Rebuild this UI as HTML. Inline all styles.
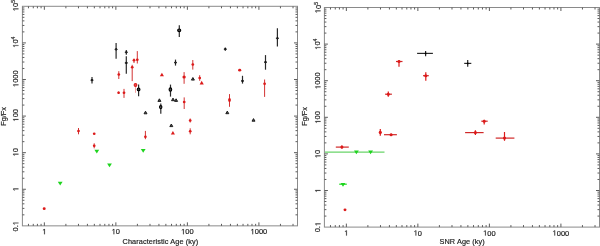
<!DOCTYPE html>
<html><head><meta charset="utf-8"><style>
html,body{margin:0;padding:0;background:#fff;}
body{width:600px;height:246px;overflow:hidden;}
svg{display:block;will-change:transform;font-family:"Liberation Sans",sans-serif;} text{fill:#222;stroke:#222;stroke-width:0.18px;}
</style></head><body>
<svg width="600" height="246" viewBox="0 0 600 246">
<rect width="600" height="246" fill="#fff"/>
<rect x="22.4" y="6.3" width="275.1" height="219.54999999999998" fill="none" stroke="#8a8a8a" stroke-width="1"/>
<line x1="28.48" y1="225.85" x2="28.48" y2="223.85" stroke="#5c5c5c" stroke-width="1.0" />
<line x1="28.48" y1="6.30" x2="28.48" y2="8.30" stroke="#5c5c5c" stroke-width="1.0" />
<line x1="33.27" y1="225.85" x2="33.27" y2="223.85" stroke="#5c5c5c" stroke-width="1.0" />
<line x1="33.27" y1="6.30" x2="33.27" y2="8.30" stroke="#5c5c5c" stroke-width="1.0" />
<line x1="37.42" y1="225.85" x2="37.42" y2="223.85" stroke="#5c5c5c" stroke-width="1.0" />
<line x1="37.42" y1="6.30" x2="37.42" y2="8.30" stroke="#5c5c5c" stroke-width="1.0" />
<line x1="41.08" y1="225.85" x2="41.08" y2="223.85" stroke="#5c5c5c" stroke-width="1.0" />
<line x1="41.08" y1="6.30" x2="41.08" y2="8.30" stroke="#5c5c5c" stroke-width="1.0" />
<line x1="44.35" y1="225.85" x2="44.35" y2="222.35" stroke="#5c5c5c" stroke-width="1.0" />
<line x1="44.35" y1="6.30" x2="44.35" y2="9.80" stroke="#5c5c5c" stroke-width="1.0" />
<line x1="65.88" y1="225.85" x2="65.88" y2="223.85" stroke="#5c5c5c" stroke-width="1.0" />
<line x1="65.88" y1="6.30" x2="65.88" y2="8.30" stroke="#5c5c5c" stroke-width="1.0" />
<line x1="78.47" y1="225.85" x2="78.47" y2="223.85" stroke="#5c5c5c" stroke-width="1.0" />
<line x1="78.47" y1="6.30" x2="78.47" y2="8.30" stroke="#5c5c5c" stroke-width="1.0" />
<line x1="87.41" y1="225.85" x2="87.41" y2="223.85" stroke="#5c5c5c" stroke-width="1.0" />
<line x1="87.41" y1="6.30" x2="87.41" y2="8.30" stroke="#5c5c5c" stroke-width="1.0" />
<line x1="94.34" y1="225.85" x2="94.34" y2="223.85" stroke="#5c5c5c" stroke-width="1.0" />
<line x1="94.34" y1="6.30" x2="94.34" y2="8.30" stroke="#5c5c5c" stroke-width="1.0" />
<line x1="100.00" y1="225.85" x2="100.00" y2="223.85" stroke="#5c5c5c" stroke-width="1.0" />
<line x1="100.00" y1="6.30" x2="100.00" y2="8.30" stroke="#5c5c5c" stroke-width="1.0" />
<line x1="104.79" y1="225.85" x2="104.79" y2="223.85" stroke="#5c5c5c" stroke-width="1.0" />
<line x1="104.79" y1="6.30" x2="104.79" y2="8.30" stroke="#5c5c5c" stroke-width="1.0" />
<line x1="108.94" y1="225.85" x2="108.94" y2="223.85" stroke="#5c5c5c" stroke-width="1.0" />
<line x1="108.94" y1="6.30" x2="108.94" y2="8.30" stroke="#5c5c5c" stroke-width="1.0" />
<line x1="112.60" y1="225.85" x2="112.60" y2="223.85" stroke="#5c5c5c" stroke-width="1.0" />
<line x1="112.60" y1="6.30" x2="112.60" y2="8.30" stroke="#5c5c5c" stroke-width="1.0" />
<line x1="115.87" y1="225.85" x2="115.87" y2="222.35" stroke="#5c5c5c" stroke-width="1.0" />
<line x1="115.87" y1="6.30" x2="115.87" y2="9.80" stroke="#5c5c5c" stroke-width="1.0" />
<line x1="137.40" y1="225.85" x2="137.40" y2="223.85" stroke="#5c5c5c" stroke-width="1.0" />
<line x1="137.40" y1="6.30" x2="137.40" y2="8.30" stroke="#5c5c5c" stroke-width="1.0" />
<line x1="149.99" y1="225.85" x2="149.99" y2="223.85" stroke="#5c5c5c" stroke-width="1.0" />
<line x1="149.99" y1="6.30" x2="149.99" y2="8.30" stroke="#5c5c5c" stroke-width="1.0" />
<line x1="158.93" y1="225.85" x2="158.93" y2="223.85" stroke="#5c5c5c" stroke-width="1.0" />
<line x1="158.93" y1="6.30" x2="158.93" y2="8.30" stroke="#5c5c5c" stroke-width="1.0" />
<line x1="165.86" y1="225.85" x2="165.86" y2="223.85" stroke="#5c5c5c" stroke-width="1.0" />
<line x1="165.86" y1="6.30" x2="165.86" y2="8.30" stroke="#5c5c5c" stroke-width="1.0" />
<line x1="171.52" y1="225.85" x2="171.52" y2="223.85" stroke="#5c5c5c" stroke-width="1.0" />
<line x1="171.52" y1="6.30" x2="171.52" y2="8.30" stroke="#5c5c5c" stroke-width="1.0" />
<line x1="176.31" y1="225.85" x2="176.31" y2="223.85" stroke="#5c5c5c" stroke-width="1.0" />
<line x1="176.31" y1="6.30" x2="176.31" y2="8.30" stroke="#5c5c5c" stroke-width="1.0" />
<line x1="180.46" y1="225.85" x2="180.46" y2="223.85" stroke="#5c5c5c" stroke-width="1.0" />
<line x1="180.46" y1="6.30" x2="180.46" y2="8.30" stroke="#5c5c5c" stroke-width="1.0" />
<line x1="184.12" y1="225.85" x2="184.12" y2="223.85" stroke="#5c5c5c" stroke-width="1.0" />
<line x1="184.12" y1="6.30" x2="184.12" y2="8.30" stroke="#5c5c5c" stroke-width="1.0" />
<line x1="187.39" y1="225.85" x2="187.39" y2="222.35" stroke="#5c5c5c" stroke-width="1.0" />
<line x1="187.39" y1="6.30" x2="187.39" y2="9.80" stroke="#5c5c5c" stroke-width="1.0" />
<line x1="208.92" y1="225.85" x2="208.92" y2="223.85" stroke="#5c5c5c" stroke-width="1.0" />
<line x1="208.92" y1="6.30" x2="208.92" y2="8.30" stroke="#5c5c5c" stroke-width="1.0" />
<line x1="221.51" y1="225.85" x2="221.51" y2="223.85" stroke="#5c5c5c" stroke-width="1.0" />
<line x1="221.51" y1="6.30" x2="221.51" y2="8.30" stroke="#5c5c5c" stroke-width="1.0" />
<line x1="230.45" y1="225.85" x2="230.45" y2="223.85" stroke="#5c5c5c" stroke-width="1.0" />
<line x1="230.45" y1="6.30" x2="230.45" y2="8.30" stroke="#5c5c5c" stroke-width="1.0" />
<line x1="237.38" y1="225.85" x2="237.38" y2="223.85" stroke="#5c5c5c" stroke-width="1.0" />
<line x1="237.38" y1="6.30" x2="237.38" y2="8.30" stroke="#5c5c5c" stroke-width="1.0" />
<line x1="243.04" y1="225.85" x2="243.04" y2="223.85" stroke="#5c5c5c" stroke-width="1.0" />
<line x1="243.04" y1="6.30" x2="243.04" y2="8.30" stroke="#5c5c5c" stroke-width="1.0" />
<line x1="247.83" y1="225.85" x2="247.83" y2="223.85" stroke="#5c5c5c" stroke-width="1.0" />
<line x1="247.83" y1="6.30" x2="247.83" y2="8.30" stroke="#5c5c5c" stroke-width="1.0" />
<line x1="251.98" y1="225.85" x2="251.98" y2="223.85" stroke="#5c5c5c" stroke-width="1.0" />
<line x1="251.98" y1="6.30" x2="251.98" y2="8.30" stroke="#5c5c5c" stroke-width="1.0" />
<line x1="255.64" y1="225.85" x2="255.64" y2="223.85" stroke="#5c5c5c" stroke-width="1.0" />
<line x1="255.64" y1="6.30" x2="255.64" y2="8.30" stroke="#5c5c5c" stroke-width="1.0" />
<line x1="258.91" y1="225.85" x2="258.91" y2="222.35" stroke="#5c5c5c" stroke-width="1.0" />
<line x1="258.91" y1="6.30" x2="258.91" y2="9.80" stroke="#5c5c5c" stroke-width="1.0" />
<line x1="280.44" y1="225.85" x2="280.44" y2="223.85" stroke="#5c5c5c" stroke-width="1.0" />
<line x1="280.44" y1="6.30" x2="280.44" y2="8.30" stroke="#5c5c5c" stroke-width="1.0" />
<line x1="293.03" y1="225.85" x2="293.03" y2="223.85" stroke="#5c5c5c" stroke-width="1.0" />
<line x1="293.03" y1="6.30" x2="293.03" y2="8.30" stroke="#5c5c5c" stroke-width="1.0" />
<line x1="22.40" y1="214.84" x2="24.40" y2="214.84" stroke="#5c5c5c" stroke-width="1.0" />
<line x1="297.50" y1="214.84" x2="295.50" y2="214.84" stroke="#5c5c5c" stroke-width="1.0" />
<line x1="22.40" y1="208.39" x2="24.40" y2="208.39" stroke="#5c5c5c" stroke-width="1.0" />
<line x1="297.50" y1="208.39" x2="295.50" y2="208.39" stroke="#5c5c5c" stroke-width="1.0" />
<line x1="22.40" y1="203.82" x2="24.40" y2="203.82" stroke="#5c5c5c" stroke-width="1.0" />
<line x1="297.50" y1="203.82" x2="295.50" y2="203.82" stroke="#5c5c5c" stroke-width="1.0" />
<line x1="22.40" y1="200.27" x2="24.40" y2="200.27" stroke="#5c5c5c" stroke-width="1.0" />
<line x1="297.50" y1="200.27" x2="295.50" y2="200.27" stroke="#5c5c5c" stroke-width="1.0" />
<line x1="22.40" y1="197.38" x2="24.40" y2="197.38" stroke="#5c5c5c" stroke-width="1.0" />
<line x1="297.50" y1="197.38" x2="295.50" y2="197.38" stroke="#5c5c5c" stroke-width="1.0" />
<line x1="22.40" y1="194.93" x2="24.40" y2="194.93" stroke="#5c5c5c" stroke-width="1.0" />
<line x1="297.50" y1="194.93" x2="295.50" y2="194.93" stroke="#5c5c5c" stroke-width="1.0" />
<line x1="22.40" y1="192.81" x2="24.40" y2="192.81" stroke="#5c5c5c" stroke-width="1.0" />
<line x1="297.50" y1="192.81" x2="295.50" y2="192.81" stroke="#5c5c5c" stroke-width="1.0" />
<line x1="22.40" y1="190.93" x2="24.40" y2="190.93" stroke="#5c5c5c" stroke-width="1.0" />
<line x1="297.50" y1="190.93" x2="295.50" y2="190.93" stroke="#5c5c5c" stroke-width="1.0" />
<line x1="22.40" y1="189.26" x2="25.90" y2="189.26" stroke="#5c5c5c" stroke-width="1.0" />
<line x1="297.50" y1="189.26" x2="294.00" y2="189.26" stroke="#5c5c5c" stroke-width="1.0" />
<line x1="22.40" y1="178.25" x2="24.40" y2="178.25" stroke="#5c5c5c" stroke-width="1.0" />
<line x1="297.50" y1="178.25" x2="295.50" y2="178.25" stroke="#5c5c5c" stroke-width="1.0" />
<line x1="22.40" y1="171.80" x2="24.40" y2="171.80" stroke="#5c5c5c" stroke-width="1.0" />
<line x1="297.50" y1="171.80" x2="295.50" y2="171.80" stroke="#5c5c5c" stroke-width="1.0" />
<line x1="22.40" y1="167.23" x2="24.40" y2="167.23" stroke="#5c5c5c" stroke-width="1.0" />
<line x1="297.50" y1="167.23" x2="295.50" y2="167.23" stroke="#5c5c5c" stroke-width="1.0" />
<line x1="22.40" y1="163.68" x2="24.40" y2="163.68" stroke="#5c5c5c" stroke-width="1.0" />
<line x1="297.50" y1="163.68" x2="295.50" y2="163.68" stroke="#5c5c5c" stroke-width="1.0" />
<line x1="22.40" y1="160.79" x2="24.40" y2="160.79" stroke="#5c5c5c" stroke-width="1.0" />
<line x1="297.50" y1="160.79" x2="295.50" y2="160.79" stroke="#5c5c5c" stroke-width="1.0" />
<line x1="22.40" y1="158.34" x2="24.40" y2="158.34" stroke="#5c5c5c" stroke-width="1.0" />
<line x1="297.50" y1="158.34" x2="295.50" y2="158.34" stroke="#5c5c5c" stroke-width="1.0" />
<line x1="22.40" y1="156.22" x2="24.40" y2="156.22" stroke="#5c5c5c" stroke-width="1.0" />
<line x1="297.50" y1="156.22" x2="295.50" y2="156.22" stroke="#5c5c5c" stroke-width="1.0" />
<line x1="22.40" y1="154.34" x2="24.40" y2="154.34" stroke="#5c5c5c" stroke-width="1.0" />
<line x1="297.50" y1="154.34" x2="295.50" y2="154.34" stroke="#5c5c5c" stroke-width="1.0" />
<line x1="22.40" y1="152.67" x2="25.90" y2="152.67" stroke="#5c5c5c" stroke-width="1.0" />
<line x1="297.50" y1="152.67" x2="294.00" y2="152.67" stroke="#5c5c5c" stroke-width="1.0" />
<line x1="22.40" y1="141.66" x2="24.40" y2="141.66" stroke="#5c5c5c" stroke-width="1.0" />
<line x1="297.50" y1="141.66" x2="295.50" y2="141.66" stroke="#5c5c5c" stroke-width="1.0" />
<line x1="22.40" y1="135.21" x2="24.40" y2="135.21" stroke="#5c5c5c" stroke-width="1.0" />
<line x1="297.50" y1="135.21" x2="295.50" y2="135.21" stroke="#5c5c5c" stroke-width="1.0" />
<line x1="22.40" y1="130.64" x2="24.40" y2="130.64" stroke="#5c5c5c" stroke-width="1.0" />
<line x1="297.50" y1="130.64" x2="295.50" y2="130.64" stroke="#5c5c5c" stroke-width="1.0" />
<line x1="22.40" y1="127.09" x2="24.40" y2="127.09" stroke="#5c5c5c" stroke-width="1.0" />
<line x1="297.50" y1="127.09" x2="295.50" y2="127.09" stroke="#5c5c5c" stroke-width="1.0" />
<line x1="22.40" y1="124.20" x2="24.40" y2="124.20" stroke="#5c5c5c" stroke-width="1.0" />
<line x1="297.50" y1="124.20" x2="295.50" y2="124.20" stroke="#5c5c5c" stroke-width="1.0" />
<line x1="22.40" y1="121.75" x2="24.40" y2="121.75" stroke="#5c5c5c" stroke-width="1.0" />
<line x1="297.50" y1="121.75" x2="295.50" y2="121.75" stroke="#5c5c5c" stroke-width="1.0" />
<line x1="22.40" y1="119.63" x2="24.40" y2="119.63" stroke="#5c5c5c" stroke-width="1.0" />
<line x1="297.50" y1="119.63" x2="295.50" y2="119.63" stroke="#5c5c5c" stroke-width="1.0" />
<line x1="22.40" y1="117.75" x2="24.40" y2="117.75" stroke="#5c5c5c" stroke-width="1.0" />
<line x1="297.50" y1="117.75" x2="295.50" y2="117.75" stroke="#5c5c5c" stroke-width="1.0" />
<line x1="22.40" y1="116.08" x2="25.90" y2="116.08" stroke="#5c5c5c" stroke-width="1.0" />
<line x1="297.50" y1="116.08" x2="294.00" y2="116.08" stroke="#5c5c5c" stroke-width="1.0" />
<line x1="22.40" y1="105.07" x2="24.40" y2="105.07" stroke="#5c5c5c" stroke-width="1.0" />
<line x1="297.50" y1="105.07" x2="295.50" y2="105.07" stroke="#5c5c5c" stroke-width="1.0" />
<line x1="22.40" y1="98.62" x2="24.40" y2="98.62" stroke="#5c5c5c" stroke-width="1.0" />
<line x1="297.50" y1="98.62" x2="295.50" y2="98.62" stroke="#5c5c5c" stroke-width="1.0" />
<line x1="22.40" y1="94.05" x2="24.40" y2="94.05" stroke="#5c5c5c" stroke-width="1.0" />
<line x1="297.50" y1="94.05" x2="295.50" y2="94.05" stroke="#5c5c5c" stroke-width="1.0" />
<line x1="22.40" y1="90.50" x2="24.40" y2="90.50" stroke="#5c5c5c" stroke-width="1.0" />
<line x1="297.50" y1="90.50" x2="295.50" y2="90.50" stroke="#5c5c5c" stroke-width="1.0" />
<line x1="22.40" y1="87.61" x2="24.40" y2="87.61" stroke="#5c5c5c" stroke-width="1.0" />
<line x1="297.50" y1="87.61" x2="295.50" y2="87.61" stroke="#5c5c5c" stroke-width="1.0" />
<line x1="22.40" y1="85.16" x2="24.40" y2="85.16" stroke="#5c5c5c" stroke-width="1.0" />
<line x1="297.50" y1="85.16" x2="295.50" y2="85.16" stroke="#5c5c5c" stroke-width="1.0" />
<line x1="22.40" y1="83.04" x2="24.40" y2="83.04" stroke="#5c5c5c" stroke-width="1.0" />
<line x1="297.50" y1="83.04" x2="295.50" y2="83.04" stroke="#5c5c5c" stroke-width="1.0" />
<line x1="22.40" y1="81.16" x2="24.40" y2="81.16" stroke="#5c5c5c" stroke-width="1.0" />
<line x1="297.50" y1="81.16" x2="295.50" y2="81.16" stroke="#5c5c5c" stroke-width="1.0" />
<line x1="22.40" y1="79.49" x2="25.90" y2="79.49" stroke="#5c5c5c" stroke-width="1.0" />
<line x1="297.50" y1="79.49" x2="294.00" y2="79.49" stroke="#5c5c5c" stroke-width="1.0" />
<line x1="22.40" y1="68.48" x2="24.40" y2="68.48" stroke="#5c5c5c" stroke-width="1.0" />
<line x1="297.50" y1="68.48" x2="295.50" y2="68.48" stroke="#5c5c5c" stroke-width="1.0" />
<line x1="22.40" y1="62.03" x2="24.40" y2="62.03" stroke="#5c5c5c" stroke-width="1.0" />
<line x1="297.50" y1="62.03" x2="295.50" y2="62.03" stroke="#5c5c5c" stroke-width="1.0" />
<line x1="22.40" y1="57.46" x2="24.40" y2="57.46" stroke="#5c5c5c" stroke-width="1.0" />
<line x1="297.50" y1="57.46" x2="295.50" y2="57.46" stroke="#5c5c5c" stroke-width="1.0" />
<line x1="22.40" y1="53.91" x2="24.40" y2="53.91" stroke="#5c5c5c" stroke-width="1.0" />
<line x1="297.50" y1="53.91" x2="295.50" y2="53.91" stroke="#5c5c5c" stroke-width="1.0" />
<line x1="22.40" y1="51.02" x2="24.40" y2="51.02" stroke="#5c5c5c" stroke-width="1.0" />
<line x1="297.50" y1="51.02" x2="295.50" y2="51.02" stroke="#5c5c5c" stroke-width="1.0" />
<line x1="22.40" y1="48.57" x2="24.40" y2="48.57" stroke="#5c5c5c" stroke-width="1.0" />
<line x1="297.50" y1="48.57" x2="295.50" y2="48.57" stroke="#5c5c5c" stroke-width="1.0" />
<line x1="22.40" y1="46.45" x2="24.40" y2="46.45" stroke="#5c5c5c" stroke-width="1.0" />
<line x1="297.50" y1="46.45" x2="295.50" y2="46.45" stroke="#5c5c5c" stroke-width="1.0" />
<line x1="22.40" y1="44.57" x2="24.40" y2="44.57" stroke="#5c5c5c" stroke-width="1.0" />
<line x1="297.50" y1="44.57" x2="295.50" y2="44.57" stroke="#5c5c5c" stroke-width="1.0" />
<line x1="22.40" y1="42.90" x2="25.90" y2="42.90" stroke="#5c5c5c" stroke-width="1.0" />
<line x1="297.50" y1="42.90" x2="294.00" y2="42.90" stroke="#5c5c5c" stroke-width="1.0" />
<line x1="22.40" y1="31.89" x2="24.40" y2="31.89" stroke="#5c5c5c" stroke-width="1.0" />
<line x1="297.50" y1="31.89" x2="295.50" y2="31.89" stroke="#5c5c5c" stroke-width="1.0" />
<line x1="22.40" y1="25.44" x2="24.40" y2="25.44" stroke="#5c5c5c" stroke-width="1.0" />
<line x1="297.50" y1="25.44" x2="295.50" y2="25.44" stroke="#5c5c5c" stroke-width="1.0" />
<line x1="22.40" y1="20.87" x2="24.40" y2="20.87" stroke="#5c5c5c" stroke-width="1.0" />
<line x1="297.50" y1="20.87" x2="295.50" y2="20.87" stroke="#5c5c5c" stroke-width="1.0" />
<line x1="22.40" y1="17.32" x2="24.40" y2="17.32" stroke="#5c5c5c" stroke-width="1.0" />
<line x1="297.50" y1="17.32" x2="295.50" y2="17.32" stroke="#5c5c5c" stroke-width="1.0" />
<line x1="22.40" y1="14.43" x2="24.40" y2="14.43" stroke="#5c5c5c" stroke-width="1.0" />
<line x1="297.50" y1="14.43" x2="295.50" y2="14.43" stroke="#5c5c5c" stroke-width="1.0" />
<line x1="22.40" y1="11.98" x2="24.40" y2="11.98" stroke="#5c5c5c" stroke-width="1.0" />
<line x1="297.50" y1="11.98" x2="295.50" y2="11.98" stroke="#5c5c5c" stroke-width="1.0" />
<line x1="22.40" y1="9.86" x2="24.40" y2="9.86" stroke="#5c5c5c" stroke-width="1.0" />
<line x1="297.50" y1="9.86" x2="295.50" y2="9.86" stroke="#5c5c5c" stroke-width="1.0" />
<line x1="22.40" y1="7.98" x2="24.40" y2="7.98" stroke="#5c5c5c" stroke-width="1.0" />
<line x1="297.50" y1="7.98" x2="295.50" y2="7.98" stroke="#5c5c5c" stroke-width="1.0" />
<g><path d="M515,0 L696,0 L696,1409 L530,1409 L197,1180 L197,1010 L515,1237 Z" transform="translate(42.264 234.200) scale(0.003662 -0.003662)" fill="#222" stroke="#222" stroke-width="0.18" vector-effect="non-scaling-stroke"/></g>
<g><path d="M515,0 L696,0 L696,1409 L530,1409 L197,1180 L197,1010 L515,1237 Z" transform="translate(111.699 234.200) scale(0.003662 -0.003662)" fill="#222" stroke="#222" stroke-width="0.18" vector-effect="non-scaling-stroke"/><text x="115.870" y="234.200" font-size="7.5">0</text></g>
<g><path d="M515,0 L696,0 L696,1409 L530,1409 L197,1180 L197,1010 L515,1237 Z" transform="translate(181.133 234.200) scale(0.003662 -0.003662)" fill="#222" stroke="#222" stroke-width="0.18" vector-effect="non-scaling-stroke"/><text x="185.304" y="234.200" font-size="7.5">0</text><text x="189.476" y="234.200" font-size="7.5">0</text></g>
<g><path d="M515,0 L696,0 L696,1409 L530,1409 L197,1180 L197,1010 L515,1237 Z" transform="translate(250.568 234.200) scale(0.003662 -0.003662)" fill="#222" stroke="#222" stroke-width="0.18" vector-effect="non-scaling-stroke"/><text x="254.739" y="234.200" font-size="7.5">0</text><text x="258.910" y="234.200" font-size="7.5">0</text><text x="263.081" y="234.200" font-size="7.5">0</text></g>
<text x="160.40" y="243.80" text-anchor="middle" font-size="7.3" letter-spacing="0.1">Characteristic Age (ky)</text>
<g transform="rotate(-90 18.40 226.25)"><text x="13.187" y="226.250" font-size="7.5">0</text><text x="17.358" y="226.250" font-size="7.5">.</text><path d="M515,0 L696,0 L696,1409 L530,1409 L197,1180 L197,1010 L515,1237 Z" transform="translate(19.442 226.250) scale(0.003662 -0.003662)" fill="#222" stroke="#222" stroke-width="0.18" vector-effect="non-scaling-stroke"/></g>
<g transform="rotate(-90 18.40 189.06)"><path d="M515,0 L696,0 L696,1409 L530,1409 L197,1180 L197,1010 L515,1237 Z" transform="translate(16.314 189.060) scale(0.003662 -0.003662)" fill="#222" stroke="#222" stroke-width="0.18" vector-effect="non-scaling-stroke"/></g>
<g transform="rotate(-90 18.40 152.17)"><path d="M515,0 L696,0 L696,1409 L530,1409 L197,1180 L197,1010 L515,1237 Z" transform="translate(14.229 152.170) scale(0.003662 -0.003662)" fill="#222" stroke="#222" stroke-width="0.18" vector-effect="non-scaling-stroke"/><text x="18.400" y="152.170" font-size="7.5">0</text></g>
<g transform="rotate(-90 18.40 115.28)"><path d="M515,0 L696,0 L696,1409 L530,1409 L197,1180 L197,1010 L515,1237 Z" transform="translate(12.143 115.280) scale(0.003662 -0.003662)" fill="#222" stroke="#222" stroke-width="0.18" vector-effect="non-scaling-stroke"/><text x="16.314" y="115.280" font-size="7.5">0</text><text x="20.486" y="115.280" font-size="7.5">0</text></g>
<g transform="rotate(-90 18.40 78.69)"><path d="M515,0 L696,0 L696,1409 L530,1409 L197,1180 L197,1010 L515,1237 Z" transform="translate(10.058 78.690) scale(0.003662 -0.003662)" fill="#222" stroke="#222" stroke-width="0.18" vector-effect="non-scaling-stroke"/><text x="14.229" y="78.690" font-size="7.5">0</text><text x="18.400" y="78.690" font-size="7.5">0</text><text x="22.571" y="78.690" font-size="7.5">0</text></g>
<g transform="rotate(-90 18.40 42.10)"><path d="M515,0 L696,0 L696,1409 L530,1409 L197,1180 L197,1010 L515,1237 Z" transform="translate(12.783 42.100) scale(0.003662 -0.003662)" fill="#222" stroke="#222" stroke-width="0.18" vector-effect="non-scaling-stroke"/><text x="16.954" y="42.100" font-size="7.5">0</text><text x="21.125" y="39.100" font-size="5.2">4</text></g>
<g transform="rotate(-90 18.40 5.51)"><path d="M515,0 L696,0 L696,1409 L530,1409 L197,1180 L197,1010 L515,1237 Z" transform="translate(12.783 5.510) scale(0.003662 -0.003662)" fill="#222" stroke="#222" stroke-width="0.18" vector-effect="non-scaling-stroke"/><text x="16.954" y="5.510" font-size="7.5">0</text><text x="21.125" y="2.510" font-size="5.2">5</text></g>
<text x="5.60" y="116.40" text-anchor="middle" font-size="7.3" transform="rotate(-90 5.60 116.40)">F<tspan dy="0.6">g</tspan><tspan dy="-0.6">/F</tspan><tspan dy="0.6">x</tspan></text>
<rect x="324.4" y="7.5" width="275.1" height="219.6" fill="none" stroke="#8a8a8a" stroke-width="1"/>
<line x1="330.48" y1="227.10" x2="330.48" y2="225.10" stroke="#5c5c5c" stroke-width="1.0" />
<line x1="330.48" y1="7.50" x2="330.48" y2="9.50" stroke="#5c5c5c" stroke-width="1.0" />
<line x1="335.27" y1="227.10" x2="335.27" y2="225.10" stroke="#5c5c5c" stroke-width="1.0" />
<line x1="335.27" y1="7.50" x2="335.27" y2="9.50" stroke="#5c5c5c" stroke-width="1.0" />
<line x1="339.42" y1="227.10" x2="339.42" y2="225.10" stroke="#5c5c5c" stroke-width="1.0" />
<line x1="339.42" y1="7.50" x2="339.42" y2="9.50" stroke="#5c5c5c" stroke-width="1.0" />
<line x1="343.08" y1="227.10" x2="343.08" y2="225.10" stroke="#5c5c5c" stroke-width="1.0" />
<line x1="343.08" y1="7.50" x2="343.08" y2="9.50" stroke="#5c5c5c" stroke-width="1.0" />
<line x1="346.35" y1="227.10" x2="346.35" y2="223.60" stroke="#5c5c5c" stroke-width="1.0" />
<line x1="346.35" y1="7.50" x2="346.35" y2="11.00" stroke="#5c5c5c" stroke-width="1.0" />
<line x1="367.88" y1="227.10" x2="367.88" y2="225.10" stroke="#5c5c5c" stroke-width="1.0" />
<line x1="367.88" y1="7.50" x2="367.88" y2="9.50" stroke="#5c5c5c" stroke-width="1.0" />
<line x1="380.47" y1="227.10" x2="380.47" y2="225.10" stroke="#5c5c5c" stroke-width="1.0" />
<line x1="380.47" y1="7.50" x2="380.47" y2="9.50" stroke="#5c5c5c" stroke-width="1.0" />
<line x1="389.41" y1="227.10" x2="389.41" y2="225.10" stroke="#5c5c5c" stroke-width="1.0" />
<line x1="389.41" y1="7.50" x2="389.41" y2="9.50" stroke="#5c5c5c" stroke-width="1.0" />
<line x1="396.34" y1="227.10" x2="396.34" y2="225.10" stroke="#5c5c5c" stroke-width="1.0" />
<line x1="396.34" y1="7.50" x2="396.34" y2="9.50" stroke="#5c5c5c" stroke-width="1.0" />
<line x1="402.00" y1="227.10" x2="402.00" y2="225.10" stroke="#5c5c5c" stroke-width="1.0" />
<line x1="402.00" y1="7.50" x2="402.00" y2="9.50" stroke="#5c5c5c" stroke-width="1.0" />
<line x1="406.79" y1="227.10" x2="406.79" y2="225.10" stroke="#5c5c5c" stroke-width="1.0" />
<line x1="406.79" y1="7.50" x2="406.79" y2="9.50" stroke="#5c5c5c" stroke-width="1.0" />
<line x1="410.94" y1="227.10" x2="410.94" y2="225.10" stroke="#5c5c5c" stroke-width="1.0" />
<line x1="410.94" y1="7.50" x2="410.94" y2="9.50" stroke="#5c5c5c" stroke-width="1.0" />
<line x1="414.60" y1="227.10" x2="414.60" y2="225.10" stroke="#5c5c5c" stroke-width="1.0" />
<line x1="414.60" y1="7.50" x2="414.60" y2="9.50" stroke="#5c5c5c" stroke-width="1.0" />
<line x1="417.87" y1="227.10" x2="417.87" y2="223.60" stroke="#5c5c5c" stroke-width="1.0" />
<line x1="417.87" y1="7.50" x2="417.87" y2="11.00" stroke="#5c5c5c" stroke-width="1.0" />
<line x1="439.40" y1="227.10" x2="439.40" y2="225.10" stroke="#5c5c5c" stroke-width="1.0" />
<line x1="439.40" y1="7.50" x2="439.40" y2="9.50" stroke="#5c5c5c" stroke-width="1.0" />
<line x1="451.99" y1="227.10" x2="451.99" y2="225.10" stroke="#5c5c5c" stroke-width="1.0" />
<line x1="451.99" y1="7.50" x2="451.99" y2="9.50" stroke="#5c5c5c" stroke-width="1.0" />
<line x1="460.93" y1="227.10" x2="460.93" y2="225.10" stroke="#5c5c5c" stroke-width="1.0" />
<line x1="460.93" y1="7.50" x2="460.93" y2="9.50" stroke="#5c5c5c" stroke-width="1.0" />
<line x1="467.86" y1="227.10" x2="467.86" y2="225.10" stroke="#5c5c5c" stroke-width="1.0" />
<line x1="467.86" y1="7.50" x2="467.86" y2="9.50" stroke="#5c5c5c" stroke-width="1.0" />
<line x1="473.52" y1="227.10" x2="473.52" y2="225.10" stroke="#5c5c5c" stroke-width="1.0" />
<line x1="473.52" y1="7.50" x2="473.52" y2="9.50" stroke="#5c5c5c" stroke-width="1.0" />
<line x1="478.31" y1="227.10" x2="478.31" y2="225.10" stroke="#5c5c5c" stroke-width="1.0" />
<line x1="478.31" y1="7.50" x2="478.31" y2="9.50" stroke="#5c5c5c" stroke-width="1.0" />
<line x1="482.46" y1="227.10" x2="482.46" y2="225.10" stroke="#5c5c5c" stroke-width="1.0" />
<line x1="482.46" y1="7.50" x2="482.46" y2="9.50" stroke="#5c5c5c" stroke-width="1.0" />
<line x1="486.12" y1="227.10" x2="486.12" y2="225.10" stroke="#5c5c5c" stroke-width="1.0" />
<line x1="486.12" y1="7.50" x2="486.12" y2="9.50" stroke="#5c5c5c" stroke-width="1.0" />
<line x1="489.39" y1="227.10" x2="489.39" y2="223.60" stroke="#5c5c5c" stroke-width="1.0" />
<line x1="489.39" y1="7.50" x2="489.39" y2="11.00" stroke="#5c5c5c" stroke-width="1.0" />
<line x1="510.92" y1="227.10" x2="510.92" y2="225.10" stroke="#5c5c5c" stroke-width="1.0" />
<line x1="510.92" y1="7.50" x2="510.92" y2="9.50" stroke="#5c5c5c" stroke-width="1.0" />
<line x1="523.51" y1="227.10" x2="523.51" y2="225.10" stroke="#5c5c5c" stroke-width="1.0" />
<line x1="523.51" y1="7.50" x2="523.51" y2="9.50" stroke="#5c5c5c" stroke-width="1.0" />
<line x1="532.45" y1="227.10" x2="532.45" y2="225.10" stroke="#5c5c5c" stroke-width="1.0" />
<line x1="532.45" y1="7.50" x2="532.45" y2="9.50" stroke="#5c5c5c" stroke-width="1.0" />
<line x1="539.38" y1="227.10" x2="539.38" y2="225.10" stroke="#5c5c5c" stroke-width="1.0" />
<line x1="539.38" y1="7.50" x2="539.38" y2="9.50" stroke="#5c5c5c" stroke-width="1.0" />
<line x1="545.04" y1="227.10" x2="545.04" y2="225.10" stroke="#5c5c5c" stroke-width="1.0" />
<line x1="545.04" y1="7.50" x2="545.04" y2="9.50" stroke="#5c5c5c" stroke-width="1.0" />
<line x1="549.83" y1="227.10" x2="549.83" y2="225.10" stroke="#5c5c5c" stroke-width="1.0" />
<line x1="549.83" y1="7.50" x2="549.83" y2="9.50" stroke="#5c5c5c" stroke-width="1.0" />
<line x1="553.98" y1="227.10" x2="553.98" y2="225.10" stroke="#5c5c5c" stroke-width="1.0" />
<line x1="553.98" y1="7.50" x2="553.98" y2="9.50" stroke="#5c5c5c" stroke-width="1.0" />
<line x1="557.64" y1="227.10" x2="557.64" y2="225.10" stroke="#5c5c5c" stroke-width="1.0" />
<line x1="557.64" y1="7.50" x2="557.64" y2="9.50" stroke="#5c5c5c" stroke-width="1.0" />
<line x1="560.91" y1="227.10" x2="560.91" y2="223.60" stroke="#5c5c5c" stroke-width="1.0" />
<line x1="560.91" y1="7.50" x2="560.91" y2="11.00" stroke="#5c5c5c" stroke-width="1.0" />
<line x1="582.44" y1="227.10" x2="582.44" y2="225.10" stroke="#5c5c5c" stroke-width="1.0" />
<line x1="582.44" y1="7.50" x2="582.44" y2="9.50" stroke="#5c5c5c" stroke-width="1.0" />
<line x1="595.03" y1="227.10" x2="595.03" y2="225.10" stroke="#5c5c5c" stroke-width="1.0" />
<line x1="595.03" y1="7.50" x2="595.03" y2="9.50" stroke="#5c5c5c" stroke-width="1.0" />
<line x1="324.40" y1="216.08" x2="326.40" y2="216.08" stroke="#5c5c5c" stroke-width="1.0" />
<line x1="599.50" y1="216.08" x2="597.50" y2="216.08" stroke="#5c5c5c" stroke-width="1.0" />
<line x1="324.40" y1="209.64" x2="326.40" y2="209.64" stroke="#5c5c5c" stroke-width="1.0" />
<line x1="599.50" y1="209.64" x2="597.50" y2="209.64" stroke="#5c5c5c" stroke-width="1.0" />
<line x1="324.40" y1="205.06" x2="326.40" y2="205.06" stroke="#5c5c5c" stroke-width="1.0" />
<line x1="599.50" y1="205.06" x2="597.50" y2="205.06" stroke="#5c5c5c" stroke-width="1.0" />
<line x1="324.40" y1="201.52" x2="326.40" y2="201.52" stroke="#5c5c5c" stroke-width="1.0" />
<line x1="599.50" y1="201.52" x2="597.50" y2="201.52" stroke="#5c5c5c" stroke-width="1.0" />
<line x1="324.40" y1="198.62" x2="326.40" y2="198.62" stroke="#5c5c5c" stroke-width="1.0" />
<line x1="599.50" y1="198.62" x2="597.50" y2="198.62" stroke="#5c5c5c" stroke-width="1.0" />
<line x1="324.40" y1="196.17" x2="326.40" y2="196.17" stroke="#5c5c5c" stroke-width="1.0" />
<line x1="599.50" y1="196.17" x2="597.50" y2="196.17" stroke="#5c5c5c" stroke-width="1.0" />
<line x1="324.40" y1="194.05" x2="326.40" y2="194.05" stroke="#5c5c5c" stroke-width="1.0" />
<line x1="599.50" y1="194.05" x2="597.50" y2="194.05" stroke="#5c5c5c" stroke-width="1.0" />
<line x1="324.40" y1="192.17" x2="326.40" y2="192.17" stroke="#5c5c5c" stroke-width="1.0" />
<line x1="599.50" y1="192.17" x2="597.50" y2="192.17" stroke="#5c5c5c" stroke-width="1.0" />
<line x1="324.40" y1="190.50" x2="327.90" y2="190.50" stroke="#5c5c5c" stroke-width="1.0" />
<line x1="599.50" y1="190.50" x2="596.00" y2="190.50" stroke="#5c5c5c" stroke-width="1.0" />
<line x1="324.40" y1="179.48" x2="326.40" y2="179.48" stroke="#5c5c5c" stroke-width="1.0" />
<line x1="599.50" y1="179.48" x2="597.50" y2="179.48" stroke="#5c5c5c" stroke-width="1.0" />
<line x1="324.40" y1="173.04" x2="326.40" y2="173.04" stroke="#5c5c5c" stroke-width="1.0" />
<line x1="599.50" y1="173.04" x2="597.50" y2="173.04" stroke="#5c5c5c" stroke-width="1.0" />
<line x1="324.40" y1="168.46" x2="326.40" y2="168.46" stroke="#5c5c5c" stroke-width="1.0" />
<line x1="599.50" y1="168.46" x2="597.50" y2="168.46" stroke="#5c5c5c" stroke-width="1.0" />
<line x1="324.40" y1="164.92" x2="326.40" y2="164.92" stroke="#5c5c5c" stroke-width="1.0" />
<line x1="599.50" y1="164.92" x2="597.50" y2="164.92" stroke="#5c5c5c" stroke-width="1.0" />
<line x1="324.40" y1="162.02" x2="326.40" y2="162.02" stroke="#5c5c5c" stroke-width="1.0" />
<line x1="599.50" y1="162.02" x2="597.50" y2="162.02" stroke="#5c5c5c" stroke-width="1.0" />
<line x1="324.40" y1="159.57" x2="326.40" y2="159.57" stroke="#5c5c5c" stroke-width="1.0" />
<line x1="599.50" y1="159.57" x2="597.50" y2="159.57" stroke="#5c5c5c" stroke-width="1.0" />
<line x1="324.40" y1="157.45" x2="326.40" y2="157.45" stroke="#5c5c5c" stroke-width="1.0" />
<line x1="599.50" y1="157.45" x2="597.50" y2="157.45" stroke="#5c5c5c" stroke-width="1.0" />
<line x1="324.40" y1="155.57" x2="326.40" y2="155.57" stroke="#5c5c5c" stroke-width="1.0" />
<line x1="599.50" y1="155.57" x2="597.50" y2="155.57" stroke="#5c5c5c" stroke-width="1.0" />
<line x1="324.40" y1="153.90" x2="327.90" y2="153.90" stroke="#5c5c5c" stroke-width="1.0" />
<line x1="599.50" y1="153.90" x2="596.00" y2="153.90" stroke="#5c5c5c" stroke-width="1.0" />
<line x1="324.40" y1="142.88" x2="326.40" y2="142.88" stroke="#5c5c5c" stroke-width="1.0" />
<line x1="599.50" y1="142.88" x2="597.50" y2="142.88" stroke="#5c5c5c" stroke-width="1.0" />
<line x1="324.40" y1="136.44" x2="326.40" y2="136.44" stroke="#5c5c5c" stroke-width="1.0" />
<line x1="599.50" y1="136.44" x2="597.50" y2="136.44" stroke="#5c5c5c" stroke-width="1.0" />
<line x1="324.40" y1="131.86" x2="326.40" y2="131.86" stroke="#5c5c5c" stroke-width="1.0" />
<line x1="599.50" y1="131.86" x2="597.50" y2="131.86" stroke="#5c5c5c" stroke-width="1.0" />
<line x1="324.40" y1="128.32" x2="326.40" y2="128.32" stroke="#5c5c5c" stroke-width="1.0" />
<line x1="599.50" y1="128.32" x2="597.50" y2="128.32" stroke="#5c5c5c" stroke-width="1.0" />
<line x1="324.40" y1="125.42" x2="326.40" y2="125.42" stroke="#5c5c5c" stroke-width="1.0" />
<line x1="599.50" y1="125.42" x2="597.50" y2="125.42" stroke="#5c5c5c" stroke-width="1.0" />
<line x1="324.40" y1="122.97" x2="326.40" y2="122.97" stroke="#5c5c5c" stroke-width="1.0" />
<line x1="599.50" y1="122.97" x2="597.50" y2="122.97" stroke="#5c5c5c" stroke-width="1.0" />
<line x1="324.40" y1="120.85" x2="326.40" y2="120.85" stroke="#5c5c5c" stroke-width="1.0" />
<line x1="599.50" y1="120.85" x2="597.50" y2="120.85" stroke="#5c5c5c" stroke-width="1.0" />
<line x1="324.40" y1="118.97" x2="326.40" y2="118.97" stroke="#5c5c5c" stroke-width="1.0" />
<line x1="599.50" y1="118.97" x2="597.50" y2="118.97" stroke="#5c5c5c" stroke-width="1.0" />
<line x1="324.40" y1="117.30" x2="327.90" y2="117.30" stroke="#5c5c5c" stroke-width="1.0" />
<line x1="599.50" y1="117.30" x2="596.00" y2="117.30" stroke="#5c5c5c" stroke-width="1.0" />
<line x1="324.40" y1="106.28" x2="326.40" y2="106.28" stroke="#5c5c5c" stroke-width="1.0" />
<line x1="599.50" y1="106.28" x2="597.50" y2="106.28" stroke="#5c5c5c" stroke-width="1.0" />
<line x1="324.40" y1="99.84" x2="326.40" y2="99.84" stroke="#5c5c5c" stroke-width="1.0" />
<line x1="599.50" y1="99.84" x2="597.50" y2="99.84" stroke="#5c5c5c" stroke-width="1.0" />
<line x1="324.40" y1="95.26" x2="326.40" y2="95.26" stroke="#5c5c5c" stroke-width="1.0" />
<line x1="599.50" y1="95.26" x2="597.50" y2="95.26" stroke="#5c5c5c" stroke-width="1.0" />
<line x1="324.40" y1="91.72" x2="326.40" y2="91.72" stroke="#5c5c5c" stroke-width="1.0" />
<line x1="599.50" y1="91.72" x2="597.50" y2="91.72" stroke="#5c5c5c" stroke-width="1.0" />
<line x1="324.40" y1="88.82" x2="326.40" y2="88.82" stroke="#5c5c5c" stroke-width="1.0" />
<line x1="599.50" y1="88.82" x2="597.50" y2="88.82" stroke="#5c5c5c" stroke-width="1.0" />
<line x1="324.40" y1="86.37" x2="326.40" y2="86.37" stroke="#5c5c5c" stroke-width="1.0" />
<line x1="599.50" y1="86.37" x2="597.50" y2="86.37" stroke="#5c5c5c" stroke-width="1.0" />
<line x1="324.40" y1="84.25" x2="326.40" y2="84.25" stroke="#5c5c5c" stroke-width="1.0" />
<line x1="599.50" y1="84.25" x2="597.50" y2="84.25" stroke="#5c5c5c" stroke-width="1.0" />
<line x1="324.40" y1="82.37" x2="326.40" y2="82.37" stroke="#5c5c5c" stroke-width="1.0" />
<line x1="599.50" y1="82.37" x2="597.50" y2="82.37" stroke="#5c5c5c" stroke-width="1.0" />
<line x1="324.40" y1="80.70" x2="327.90" y2="80.70" stroke="#5c5c5c" stroke-width="1.0" />
<line x1="599.50" y1="80.70" x2="596.00" y2="80.70" stroke="#5c5c5c" stroke-width="1.0" />
<line x1="324.40" y1="69.68" x2="326.40" y2="69.68" stroke="#5c5c5c" stroke-width="1.0" />
<line x1="599.50" y1="69.68" x2="597.50" y2="69.68" stroke="#5c5c5c" stroke-width="1.0" />
<line x1="324.40" y1="63.24" x2="326.40" y2="63.24" stroke="#5c5c5c" stroke-width="1.0" />
<line x1="599.50" y1="63.24" x2="597.50" y2="63.24" stroke="#5c5c5c" stroke-width="1.0" />
<line x1="324.40" y1="58.66" x2="326.40" y2="58.66" stroke="#5c5c5c" stroke-width="1.0" />
<line x1="599.50" y1="58.66" x2="597.50" y2="58.66" stroke="#5c5c5c" stroke-width="1.0" />
<line x1="324.40" y1="55.12" x2="326.40" y2="55.12" stroke="#5c5c5c" stroke-width="1.0" />
<line x1="599.50" y1="55.12" x2="597.50" y2="55.12" stroke="#5c5c5c" stroke-width="1.0" />
<line x1="324.40" y1="52.22" x2="326.40" y2="52.22" stroke="#5c5c5c" stroke-width="1.0" />
<line x1="599.50" y1="52.22" x2="597.50" y2="52.22" stroke="#5c5c5c" stroke-width="1.0" />
<line x1="324.40" y1="49.77" x2="326.40" y2="49.77" stroke="#5c5c5c" stroke-width="1.0" />
<line x1="599.50" y1="49.77" x2="597.50" y2="49.77" stroke="#5c5c5c" stroke-width="1.0" />
<line x1="324.40" y1="47.65" x2="326.40" y2="47.65" stroke="#5c5c5c" stroke-width="1.0" />
<line x1="599.50" y1="47.65" x2="597.50" y2="47.65" stroke="#5c5c5c" stroke-width="1.0" />
<line x1="324.40" y1="45.77" x2="326.40" y2="45.77" stroke="#5c5c5c" stroke-width="1.0" />
<line x1="599.50" y1="45.77" x2="597.50" y2="45.77" stroke="#5c5c5c" stroke-width="1.0" />
<line x1="324.40" y1="44.10" x2="327.90" y2="44.10" stroke="#5c5c5c" stroke-width="1.0" />
<line x1="599.50" y1="44.10" x2="596.00" y2="44.10" stroke="#5c5c5c" stroke-width="1.0" />
<line x1="324.40" y1="33.08" x2="326.40" y2="33.08" stroke="#5c5c5c" stroke-width="1.0" />
<line x1="599.50" y1="33.08" x2="597.50" y2="33.08" stroke="#5c5c5c" stroke-width="1.0" />
<line x1="324.40" y1="26.64" x2="326.40" y2="26.64" stroke="#5c5c5c" stroke-width="1.0" />
<line x1="599.50" y1="26.64" x2="597.50" y2="26.64" stroke="#5c5c5c" stroke-width="1.0" />
<line x1="324.40" y1="22.06" x2="326.40" y2="22.06" stroke="#5c5c5c" stroke-width="1.0" />
<line x1="599.50" y1="22.06" x2="597.50" y2="22.06" stroke="#5c5c5c" stroke-width="1.0" />
<line x1="324.40" y1="18.52" x2="326.40" y2="18.52" stroke="#5c5c5c" stroke-width="1.0" />
<line x1="599.50" y1="18.52" x2="597.50" y2="18.52" stroke="#5c5c5c" stroke-width="1.0" />
<line x1="324.40" y1="15.62" x2="326.40" y2="15.62" stroke="#5c5c5c" stroke-width="1.0" />
<line x1="599.50" y1="15.62" x2="597.50" y2="15.62" stroke="#5c5c5c" stroke-width="1.0" />
<line x1="324.40" y1="13.17" x2="326.40" y2="13.17" stroke="#5c5c5c" stroke-width="1.0" />
<line x1="599.50" y1="13.17" x2="597.50" y2="13.17" stroke="#5c5c5c" stroke-width="1.0" />
<line x1="324.40" y1="11.05" x2="326.40" y2="11.05" stroke="#5c5c5c" stroke-width="1.0" />
<line x1="599.50" y1="11.05" x2="597.50" y2="11.05" stroke="#5c5c5c" stroke-width="1.0" />
<line x1="324.40" y1="9.17" x2="326.40" y2="9.17" stroke="#5c5c5c" stroke-width="1.0" />
<line x1="599.50" y1="9.17" x2="597.50" y2="9.17" stroke="#5c5c5c" stroke-width="1.0" />
<g><path d="M515,0 L696,0 L696,1409 L530,1409 L197,1180 L197,1010 L515,1237 Z" transform="translate(344.264 235.600) scale(0.003662 -0.003662)" fill="#222" stroke="#222" stroke-width="0.18" vector-effect="non-scaling-stroke"/></g>
<g><path d="M515,0 L696,0 L696,1409 L530,1409 L197,1180 L197,1010 L515,1237 Z" transform="translate(413.699 235.600) scale(0.003662 -0.003662)" fill="#222" stroke="#222" stroke-width="0.18" vector-effect="non-scaling-stroke"/><text x="417.870" y="235.600" font-size="7.5">0</text></g>
<g><path d="M515,0 L696,0 L696,1409 L530,1409 L197,1180 L197,1010 L515,1237 Z" transform="translate(483.133 235.600) scale(0.003662 -0.003662)" fill="#222" stroke="#222" stroke-width="0.18" vector-effect="non-scaling-stroke"/><text x="487.304" y="235.600" font-size="7.5">0</text><text x="491.476" y="235.600" font-size="7.5">0</text></g>
<g><path d="M515,0 L696,0 L696,1409 L530,1409 L197,1180 L197,1010 L515,1237 Z" transform="translate(552.568 235.600) scale(0.003662 -0.003662)" fill="#222" stroke="#222" stroke-width="0.18" vector-effect="non-scaling-stroke"/><text x="556.739" y="235.600" font-size="7.5">0</text><text x="560.910" y="235.600" font-size="7.5">0</text><text x="565.081" y="235.600" font-size="7.5">0</text></g>
<text x="462.20" y="244.30" text-anchor="middle" font-size="7.3" letter-spacing="0.1">SNR Age (ky)</text>
<g transform="rotate(-90 320.50 227.10)"><text x="315.287" y="227.100" font-size="7.5">0</text><text x="319.458" y="227.100" font-size="7.5">.</text><path d="M515,0 L696,0 L696,1409 L530,1409 L197,1180 L197,1010 L515,1237 Z" transform="translate(321.542 227.100) scale(0.003662 -0.003662)" fill="#222" stroke="#222" stroke-width="0.18" vector-effect="non-scaling-stroke"/></g>
<g transform="rotate(-90 320.50 190.50)"><path d="M515,0 L696,0 L696,1409 L530,1409 L197,1180 L197,1010 L515,1237 Z" transform="translate(318.414 190.500) scale(0.003662 -0.003662)" fill="#222" stroke="#222" stroke-width="0.18" vector-effect="non-scaling-stroke"/></g>
<g transform="rotate(-90 320.50 153.90)"><path d="M515,0 L696,0 L696,1409 L530,1409 L197,1180 L197,1010 L515,1237 Z" transform="translate(316.329 153.900) scale(0.003662 -0.003662)" fill="#222" stroke="#222" stroke-width="0.18" vector-effect="non-scaling-stroke"/><text x="320.500" y="153.900" font-size="7.5">0</text></g>
<g transform="rotate(-90 320.50 117.30)"><path d="M515,0 L696,0 L696,1409 L530,1409 L197,1180 L197,1010 L515,1237 Z" transform="translate(314.243 117.300) scale(0.003662 -0.003662)" fill="#222" stroke="#222" stroke-width="0.18" vector-effect="non-scaling-stroke"/><text x="318.414" y="117.300" font-size="7.5">0</text><text x="322.586" y="117.300" font-size="7.5">0</text></g>
<g transform="rotate(-90 320.50 80.70)"><path d="M515,0 L696,0 L696,1409 L530,1409 L197,1180 L197,1010 L515,1237 Z" transform="translate(312.158 80.700) scale(0.003662 -0.003662)" fill="#222" stroke="#222" stroke-width="0.18" vector-effect="non-scaling-stroke"/><text x="316.329" y="80.700" font-size="7.5">0</text><text x="320.500" y="80.700" font-size="7.5">0</text><text x="324.671" y="80.700" font-size="7.5">0</text></g>
<g transform="rotate(-90 320.50 44.10)"><path d="M515,0 L696,0 L696,1409 L530,1409 L197,1180 L197,1010 L515,1237 Z" transform="translate(314.883 44.100) scale(0.003662 -0.003662)" fill="#222" stroke="#222" stroke-width="0.18" vector-effect="non-scaling-stroke"/><text x="319.054" y="44.100" font-size="7.5">0</text><text x="323.225" y="41.100" font-size="5.2">4</text></g>
<g transform="rotate(-90 320.50 7.50)"><path d="M515,0 L696,0 L696,1409 L530,1409 L197,1180 L197,1010 L515,1237 Z" transform="translate(314.883 7.500) scale(0.003662 -0.003662)" fill="#222" stroke="#222" stroke-width="0.18" vector-effect="non-scaling-stroke"/><text x="319.054" y="7.500" font-size="7.5">0</text><text x="323.225" y="4.500" font-size="5.2">5</text></g>
<text x="306.70" y="116.40" text-anchor="middle" font-size="7.3" transform="rotate(-90 306.70 116.40)">F<tspan dy="0.6">g</tspan><tspan dy="-0.6">/F</tspan><tspan dy="0.6">x</tspan></text>
<line x1="116.10" y1="43.10" x2="116.10" y2="58.80" stroke="#2a2a2a" stroke-width="1.2" />
<circle cx="116.1" cy="49.4" r="1.105" fill="#000"/>
<line x1="114.60" y1="49.40" x2="117.60" y2="49.40" stroke="#2a2a2a" stroke-width="1.0" />
<line x1="126.30" y1="49.90" x2="126.30" y2="54.80" stroke="#2a2a2a" stroke-width="1.2" />
<circle cx="126.3" cy="52.3" r="1.105" fill="#000"/>
<line x1="124.80" y1="52.30" x2="127.80" y2="52.30" stroke="#2a2a2a" stroke-width="1.0" />
<line x1="126.30" y1="56.20" x2="126.30" y2="73.70" stroke="#2a2a2a" stroke-width="1.2" />
<circle cx="126.3" cy="62.9" r="1.105" fill="#000"/>
<line x1="124.80" y1="62.90" x2="127.80" y2="62.90" stroke="#2a2a2a" stroke-width="1.0" />
<line x1="179.30" y1="25.30" x2="179.30" y2="37.00" stroke="#2a2a2a" stroke-width="1.2" />
<ellipse cx="179.2" cy="30.3" rx="1.55" ry="1.35" fill="#555" stroke="#000" stroke-width="1.1"/>
<line x1="225.30" y1="47.60" x2="225.30" y2="50.80" stroke="#2a2a2a" stroke-width="1.2" />
<circle cx="225.3" cy="49.2" r="1.105" fill="#000"/>
<line x1="223.80" y1="49.20" x2="226.80" y2="49.20" stroke="#2a2a2a" stroke-width="1.0" />
<line x1="92.00" y1="77.00" x2="92.00" y2="83.50" stroke="#2a2a2a" stroke-width="1.2" />
<circle cx="92" cy="80.2" r="1.105" fill="#000"/>
<line x1="90.50" y1="80.20" x2="93.50" y2="80.20" stroke="#2a2a2a" stroke-width="1.0" />
<line x1="138.60" y1="84.60" x2="138.60" y2="96.20" stroke="#2a2a2a" stroke-width="1.2" />
<circle cx="138.6" cy="89.4" r="1.35" fill="#444" stroke="#000" stroke-width="1.1"/>
<line x1="175.50" y1="59.60" x2="175.50" y2="65.60" stroke="#2a2a2a" stroke-width="1.2" />
<circle cx="175.5" cy="62.6" r="1.105" fill="#000"/>
<line x1="174.00" y1="62.60" x2="177.00" y2="62.60" stroke="#2a2a2a" stroke-width="1.0" />
<line x1="170.50" y1="84.60" x2="170.50" y2="96.60" stroke="#2a2a2a" stroke-width="1.2" />
<ellipse cx="170.4" cy="89.6" rx="1.3" ry="1.7" fill="#555" stroke="#000" stroke-width="1.1"/>
<line x1="160.80" y1="103.50" x2="160.80" y2="113.80" stroke="#2a2a2a" stroke-width="1.2" />
<ellipse cx="160.7" cy="107.1" rx="1.2" ry="1.5" fill="#666" stroke="#000" stroke-width="1.1"/>
<line x1="242.50" y1="75.80" x2="242.50" y2="83.60" stroke="#2a2a2a" stroke-width="1.2" />
<circle cx="242.5" cy="80.9" r="1.105" fill="#000"/>
<line x1="241.00" y1="80.90" x2="244.00" y2="80.90" stroke="#2a2a2a" stroke-width="1.0" />
<line x1="277.40" y1="28.20" x2="277.40" y2="46.50" stroke="#2a2a2a" stroke-width="1.2" />
<circle cx="277.4" cy="38.3" r="1.105" fill="#000"/>
<line x1="275.90" y1="38.30" x2="278.90" y2="38.30" stroke="#2a2a2a" stroke-width="1.0" />
<line x1="265.50" y1="55.10" x2="265.50" y2="69.70" stroke="#2a2a2a" stroke-width="1.2" />
<circle cx="265.5" cy="62.2" r="1.105" fill="#000"/>
<line x1="264.00" y1="62.20" x2="267.00" y2="62.20" stroke="#2a2a2a" stroke-width="1.0" />
<polygon points="191.40,80.10 194.40,80.10 192.90,77.50" fill="#555" stroke="#111" stroke-width="0.9" stroke-linejoin="round"/>
<polygon points="157.90,101.40 160.90,101.40 159.40,98.80" fill="#555" stroke="#111" stroke-width="0.9" stroke-linejoin="round"/>
<polygon points="171.50,100.70 174.50,100.70 173.00,98.10" fill="#555" stroke="#111" stroke-width="0.9" stroke-linejoin="round"/>
<polygon points="174.60,101.40 177.60,101.40 176.10,98.80" fill="#555" stroke="#111" stroke-width="0.9" stroke-linejoin="round"/>
<polygon points="144.00,113.80 147.00,113.80 145.50,111.20" fill="#555" stroke="#111" stroke-width="0.9" stroke-linejoin="round"/>
<polygon points="169.80,126.60 172.80,126.60 171.30,124.00" fill="#555" stroke="#111" stroke-width="0.9" stroke-linejoin="round"/>
<polygon points="225.80,113.70 228.80,113.70 227.30,111.10" fill="#555" stroke="#111" stroke-width="0.9" stroke-linejoin="round"/>
<polygon points="252.00,121.20 255.00,121.20 253.50,118.60" fill="#555" stroke="#111" stroke-width="0.9" stroke-linejoin="round"/>
<line x1="118.80" y1="71.20" x2="118.80" y2="79.00" stroke="#d02828" stroke-width="0.95" />
<ellipse cx="118.8" cy="74.5" rx="1.37" ry="1.23" fill="#dc1a1a"/>
<line x1="132.20" y1="64.80" x2="132.20" y2="81.10" stroke="#d02828" stroke-width="0.95" />
<ellipse cx="132.2" cy="67.2" rx="1.37" ry="1.23" fill="#dc1a1a"/>
<line x1="134.00" y1="58.50" x2="134.00" y2="63.00" stroke="#d02828" stroke-width="0.95" />
<ellipse cx="134" cy="60.3" rx="1.37" ry="1.23" fill="#dc1a1a"/>
<line x1="137.30" y1="51.10" x2="137.30" y2="63.50" stroke="#d02828" stroke-width="0.95" />
<ellipse cx="137.3" cy="59.7" rx="1.37" ry="1.23" fill="#dc1a1a"/>
<line x1="135.50" y1="86.50" x2="135.50" y2="92.80" stroke="#f0a0a0" stroke-width="1" />
<circle cx="135.5" cy="85.0" r="1.35" fill="#e86060" stroke="#dc1a1a" stroke-width="1.1"/>
<line x1="118.60" y1="91.50" x2="118.60" y2="94.00" stroke="#d02828" stroke-width="0.95" />
<ellipse cx="118.6" cy="92.7" rx="1.37" ry="1.23" fill="#dc1a1a"/>
<line x1="124.00" y1="88.90" x2="124.00" y2="97.90" stroke="#d02828" stroke-width="0.95" />
<ellipse cx="124" cy="92.7" rx="1.37" ry="1.23" fill="#dc1a1a"/>
<line x1="184.10" y1="72.10" x2="184.10" y2="83.80" stroke="#d02828" stroke-width="0.95" />
<ellipse cx="184.1" cy="77" rx="1.68" ry="1.52" fill="#dc1a1a"/>
<line x1="192.80" y1="60.00" x2="192.80" y2="69.60" stroke="#d02828" stroke-width="0.95" />
<ellipse cx="192.8" cy="64.5" rx="1.37" ry="1.23" fill="#dc1a1a"/>
<line x1="199.70" y1="75.20" x2="199.70" y2="80.80" stroke="#d02828" stroke-width="0.95" />
<ellipse cx="199.7" cy="77.9" rx="1.37" ry="1.23" fill="#dc1a1a"/>
<line x1="184.20" y1="97.40" x2="184.20" y2="109.00" stroke="#d02828" stroke-width="0.95" />
<ellipse cx="184.2" cy="102" rx="1.37" ry="1.23" fill="#dc1a1a"/>
<line x1="190.20" y1="118.50" x2="190.20" y2="122.50" stroke="#d02828" stroke-width="0.95" />
<ellipse cx="190.2" cy="120.5" rx="1.37" ry="1.23" fill="#dc1a1a"/>
<line x1="190.20" y1="128.30" x2="190.20" y2="134.30" stroke="#d02828" stroke-width="0.95" />
<ellipse cx="190.2" cy="131.3" rx="1.37" ry="1.23" fill="#dc1a1a"/>
<line x1="145.40" y1="130.90" x2="145.40" y2="139.20" stroke="#d02828" stroke-width="0.95" />
<ellipse cx="145.4" cy="136.8" rx="1.37" ry="1.23" fill="#dc1a1a"/>
<ellipse cx="94.2" cy="133.7" rx="1.37" ry="1.23" fill="#dc1a1a"/>
<line x1="78.50" y1="128.00" x2="78.50" y2="134.30" stroke="#d02828" stroke-width="0.95" />
<ellipse cx="78.5" cy="131.1" rx="1.37" ry="1.23" fill="#dc1a1a"/>
<line x1="94.20" y1="143.30" x2="94.20" y2="148.30" stroke="#d02828" stroke-width="0.95" />
<ellipse cx="94.2" cy="145.8" rx="1.37" ry="1.23" fill="#dc1a1a"/>
<ellipse cx="239.7" cy="70.2" rx="1.58" ry="1.42" fill="#dc1a1a"/>
<line x1="229.50" y1="94.10" x2="229.50" y2="106.80" stroke="#d02828" stroke-width="0.95" />
<ellipse cx="229.5" cy="100" rx="1.4" ry="1.9" fill="#dc1a1a"/>
<line x1="264.60" y1="79.50" x2="264.60" y2="96.90" stroke="#d02828" stroke-width="0.95" />
<ellipse cx="264.6" cy="83.8" rx="1.37" ry="1.23" fill="#dc1a1a"/>
<ellipse cx="44.2" cy="208.7" rx="1.47" ry="1.33" fill="#dc1a1a"/>
<polygon points="159.85,76.28 163.95,76.28 161.90,72.72" fill="#dc1a1a"/>
<polygon points="199.65,84.38 203.75,84.38 201.70,80.82" fill="#dc1a1a"/>
<polygon points="170.85,134.58 174.95,134.58 172.90,131.02" fill="#dc1a1a"/>
<polygon points="57.80,181.68 62.60,181.68 60.20,185.52" fill="#1ed41e"/>
<polygon points="94.40,149.68 99.20,149.68 96.80,153.52" fill="#1ed41e"/>
<polygon points="107.10,163.48 111.90,163.48 109.50,167.32" fill="#1ed41e"/>
<polygon points="140.80,148.88 145.60,148.88 143.20,152.72" fill="#1ed41e"/>
<line x1="425.60" y1="51.00" x2="425.60" y2="56.20" stroke="#2a2a2a" stroke-width="1.2" />
<line x1="417.10" y1="53.40" x2="432.90" y2="53.40" stroke="#2a2a2a" stroke-width="1.2" />
<circle cx="425.6" cy="53.4" r="0.9" fill="#000"/>
<line x1="467.70" y1="60.10" x2="467.70" y2="66.80" stroke="#2a2a2a" stroke-width="1.2" />
<line x1="464.20" y1="63.40" x2="471.30" y2="63.40" stroke="#2a2a2a" stroke-width="1.2" />
<circle cx="467.7" cy="63.4" r="0.9" fill="#000"/>
<line x1="399.00" y1="60.00" x2="399.00" y2="66.80" stroke="#dc1a1a" stroke-width="1.2" />
<line x1="396.00" y1="61.50" x2="402.50" y2="61.50" stroke="#d02828" stroke-width="1.2" />
<circle cx="399" cy="61.5" r="1.55" fill="#dc1a1a"/>
<line x1="425.80" y1="72.20" x2="425.80" y2="80.80" stroke="#dc1a1a" stroke-width="1.2" />
<line x1="423.00" y1="75.70" x2="428.80" y2="75.70" stroke="#d02828" stroke-width="1.2" />
<circle cx="425.8" cy="75.7" r="1.55" fill="#dc1a1a"/>
<line x1="388.30" y1="91.40" x2="388.30" y2="96.80" stroke="#dc1a1a" stroke-width="1.2" />
<line x1="385.10" y1="94.20" x2="391.90" y2="94.20" stroke="#d02828" stroke-width="1.2" />
<circle cx="388.3" cy="94.2" r="1.55" fill="#dc1a1a"/>
<line x1="380.30" y1="129.10" x2="380.30" y2="135.70" stroke="#dc1a1a" stroke-width="1.2" />
<line x1="379.30" y1="132.40" x2="381.30" y2="132.40" stroke="#d02828" stroke-width="1.2" />
<circle cx="380.3" cy="132.4" r="1.55" fill="#dc1a1a"/>
<line x1="391.10" y1="133.70" x2="391.10" y2="135.70" stroke="#dc1a1a" stroke-width="1.2" />
<line x1="384.00" y1="134.70" x2="396.90" y2="134.70" stroke="#d02828" stroke-width="1.2" />
<circle cx="391.1" cy="134.7" r="1.55" fill="#dc1a1a"/>
<line x1="341.90" y1="145.60" x2="341.90" y2="148.60" stroke="#dc1a1a" stroke-width="1.2" />
<line x1="335.80" y1="147.10" x2="348.80" y2="147.10" stroke="#d02828" stroke-width="1.2" />
<circle cx="341.9" cy="147.1" r="1.55" fill="#dc1a1a"/>
<line x1="484.20" y1="119.70" x2="484.20" y2="124.40" stroke="#dc1a1a" stroke-width="1.2" />
<line x1="481.30" y1="121.20" x2="487.70" y2="121.20" stroke="#d02828" stroke-width="1.2" />
<circle cx="484.2" cy="121.2" r="1.55" fill="#dc1a1a"/>
<line x1="475.40" y1="130.30" x2="475.40" y2="134.90" stroke="#dc1a1a" stroke-width="1.2" />
<line x1="465.10" y1="132.60" x2="483.60" y2="132.60" stroke="#d02828" stroke-width="1.2" />
<circle cx="475.4" cy="132.6" r="1.55" fill="#dc1a1a"/>
<line x1="504.50" y1="132.00" x2="504.50" y2="140.80" stroke="#dc1a1a" stroke-width="1.2" />
<line x1="495.70" y1="138.10" x2="514.40" y2="138.10" stroke="#d02828" stroke-width="1.2" />
<circle cx="504.5" cy="138.1" r="1.55" fill="#dc1a1a"/>
<ellipse cx="345" cy="209.8" rx="1.47" ry="1.33" fill="#dc1a1a"/>
<line x1="325.00" y1="152.10" x2="384.50" y2="152.10" stroke="#6ad46a" stroke-width="1.4" />
<polygon points="354.00,150.48 358.80,150.48 356.40,154.32" fill="#1ed41e"/>
<polygon points="368.20,150.48 373.00,150.48 370.60,154.32" fill="#1ed41e"/>
<line x1="339.20" y1="184.20" x2="346.80" y2="184.20" stroke="#22dd22" stroke-width="1.2" />
<polygon points="340.60,182.98 345.40,182.98 343.00,186.82" fill="#1ed41e"/>
</svg>
</body></html>
